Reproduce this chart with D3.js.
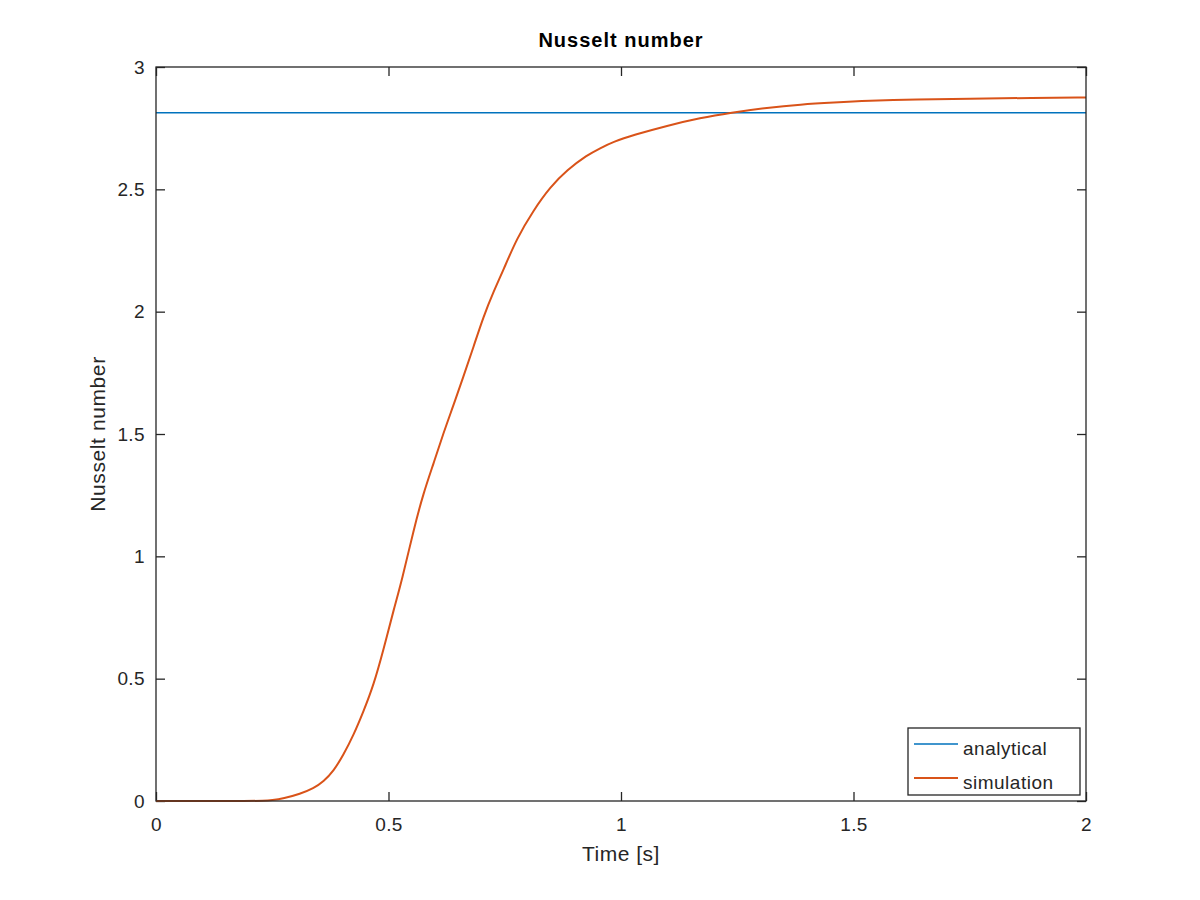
<!DOCTYPE html>
<html>
<head>
<meta charset="utf-8">
<script src="https://cdn.jsdelivr.net/npm/d3@7"></script>
<style>
  body { margin: 0; background: #fff; }
  text { font-family: "Liberation Sans", Arial, sans-serif; fill: #262626; }
</style>
</head>
<body>
<div id="chart"></div>
<script>
// Data
const simTime = [0, 0.1, 0.2, 0.23, 0.25, 0.274, 0.31, 0.339, 0.36, 0.382, 0.403, 0.425, 0.446,
  0.468, 0.489, 0.511, 0.529, 0.554, 0.575, 0.597, 0.618, 0.64, 0.661, 0.683, 0.704, 0.726,
  0.747, 0.776, 0.812, 0.848, 0.884, 0.927, 0.955, 0.984, 1.027, 1.099, 1.171, 1.236, 1.315,
  1.386, 1.458, 1.53, 1.637, 1.745, 1.888, 2.0];
const simNu = [0, 0, 0, 0.001, 0.003, 0.01, 0.029, 0.052, 0.079, 0.123, 0.188, 0.27, 0.365,
  0.474, 0.617, 0.781, 0.903, 1.108, 1.258, 1.38, 1.503, 1.619, 1.734, 1.857, 1.979, 2.082,
  2.17, 2.3, 2.415, 2.51, 2.579, 2.64, 2.668, 2.695, 2.722, 2.76, 2.792, 2.813, 2.834,
  2.847, 2.855, 2.862, 2.868, 2.87, 2.874, 2.875];
const analyticalTime = [0, 2];
const analyticalNu = [2.813, 2.813];
const xTicks = [0, 0.5, 1, 1.5, 2];
const yTicks = [0, 0.5, 1, 1.5, 2, 2.5, 3];

const width = 1200, height = 900;
const margin = { top: 67, right: 114, bottom: 99, left: 156 };
const w = width - margin.left - margin.right;
const h = height - margin.top - margin.bottom;

const svg = d3.select("#chart").append("svg")
    .attr("width", width)
    .attr("height", height);

const g = svg.append("g")
    .attr("transform", `translate(${margin.left},${margin.top})`);

const x = d3.scaleLinear().domain([0, 2]).range([0, w]);
const y = d3.scaleLinear().domain([0, 3]).range([h, 0]);

const axisColor = "#262626";
const tickLen = 9;

// Axes with inward ticks, Octave style
const styleAxis = sel => {
    sel.select(".domain").remove();
    sel.selectAll(".tick line").attr("stroke", axisColor).attr("stroke-width", 1.3);
    sel.selectAll(".tick text")
        .style("font-size", "19px")
        .style("letter-spacing", "0.4px")
        .attr("fill", axisColor);
};

g.append("g")
    .attr("transform", `translate(0,${h})`)
    .call(d3.axisBottom(x).tickValues(xTicks).tickFormat(d3.format("")).tickSizeInner(-tickLen).tickPadding(17))
    .call(styleAxis);

g.append("g")
    .call(d3.axisTop(x).tickValues(xTicks).tickFormat("").tickSizeInner(-tickLen))
    .call(styleAxis);

g.append("g")
    .call(d3.axisLeft(y).tickValues(yTicks).tickFormat(d3.format("")).tickSizeInner(-tickLen).tickPadding(11))
    .call(styleAxis);

g.append("g")
    .attr("transform", `translate(${w},0)`)
    .call(d3.axisRight(y).tickValues(yTicks).tickFormat("").tickSizeInner(-tickLen))
    .call(styleAxis);

// Lines
const line = d3.line()
    .x(d => x(d[0]))
    .y(d => y(d[1]))
    .curve(d3.curveBasis);

g.append("path")
    .datum(analyticalTime.map((t, i) => [t, analyticalNu[i]]))
    .attr("d", line)
    .attr("fill", "none")
    .attr("stroke", "#0072BD")
    .attr("stroke-width", 1.7);

g.append("path")
    .datum(simTime.map((t, i) => [t, simNu[i]]))
    .attr("d", line)
    .attr("fill", "none")
    .attr("stroke", "#D95319")
    .attr("stroke-width", 2);

// Frame
g.append("rect")
    .attr("width", w)
    .attr("height", h)
    .attr("fill", "none")
    .attr("stroke", axisColor)
    .attr("stroke-width", 1.3);

// Title and labels
svg.append("text")
    .attr("x", margin.left + w / 2)
    .attr("y", 47)
    .attr("text-anchor", "middle")
    .style("font-size", "20px")
    .style("font-weight", "bold")
    .style("letter-spacing", "1px")
    .style("fill", "#000")
    .text("Nusselt number");

svg.append("text")
    .attr("x", margin.left + w / 2)
    .attr("y", 861)
    .attr("text-anchor", "middle")
    .style("font-size", "21px")
    .style("letter-spacing", "0.5px")
    .text("Time [s]");

svg.append("text")
    .attr("transform", `translate(105,${margin.top + h / 2}) rotate(-90)`)
    .attr("text-anchor", "middle")
    .style("font-size", "21px")
    .style("letter-spacing", "0.6px")
    .text("Nusselt number");

// Legend
const legend = g.append("g").attr("transform", `translate(${w - 178},${h - 73})`);
legend.append("rect")
    .attr("width", 172)
    .attr("height", 67)
    .attr("fill", "#fff")
    .attr("stroke", axisColor)
    .attr("stroke-width", 1.3);

const items = [["analytical", "#0072BD"], ["simulation", "#D95319"]];
items.forEach(([name, color], i) => {
    const yy = 16 + i * 34;
    legend.append("line")
        .attr("x1", 6).attr("x2", 50)
        .attr("y1", yy).attr("y2", yy)
        .attr("stroke", color)
        .attr("stroke-width", i === 0 ? 1.7 : 2);
    legend.append("text")
        .attr("x", 55)
        .attr("y", yy + 11)
        .style("font-size", "19px")
        .style("letter-spacing", "0.5px")
        .text(name);
});
</script>
</body>
</html>
